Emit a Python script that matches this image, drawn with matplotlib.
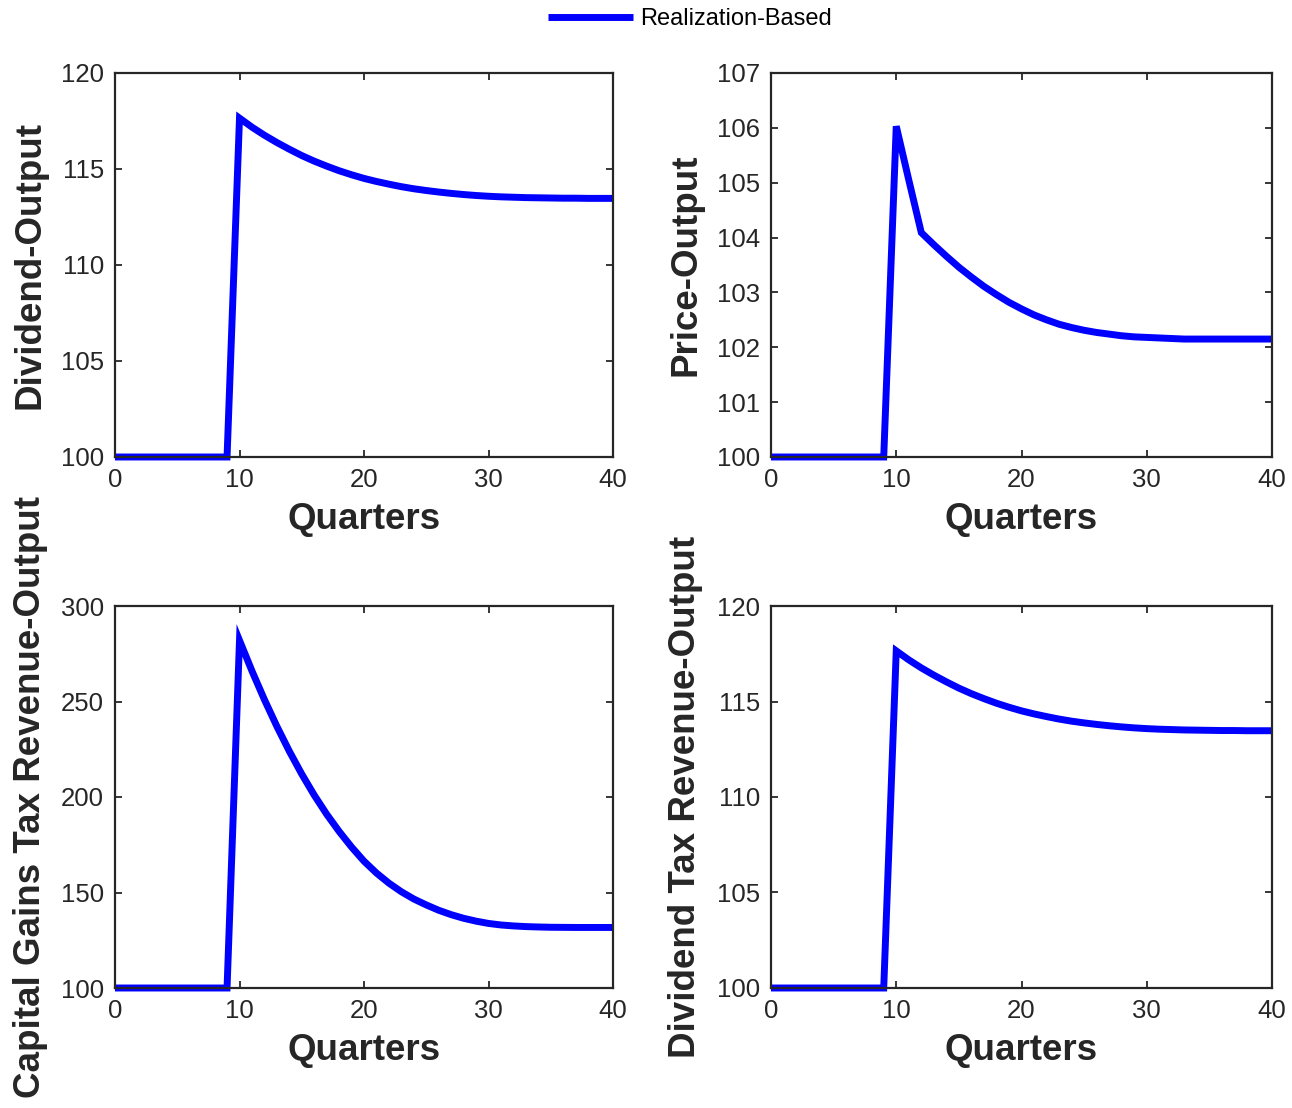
import matplotlib
matplotlib.use("Agg")
import matplotlib.pyplot as plt

plt.rcParams['font.family'] = ['Liberation Sans', 'DejaVu Sans']

# Quarters 0..40
quarters = list(range(41))

# valores (100 = nível inicial)
dividend_output = [100.0] * 10 + [
    117.65, 117.18, 116.76, 116.38, 116.03, 115.70, 115.41, 115.15, 114.91, 114.70,
    114.51, 114.35, 114.21, 114.08, 113.97, 113.88, 113.80, 113.73, 113.67, 113.62,
    113.58, 113.55, 113.53, 113.51, 113.50, 113.49, 113.48, 113.48, 113.47, 113.47,
    113.47]

price_output = [100.0] * 10 + [
    106.03, 105.05, 104.09, 103.87, 103.66, 103.46, 103.28, 103.11, 102.96, 102.82,
    102.70, 102.59, 102.50, 102.42, 102.36, 102.31, 102.27, 102.24, 102.21, 102.19,
    102.18, 102.17, 102.16, 102.15, 102.15, 102.15, 102.15, 102.15, 102.15, 102.15,
    102.15]

capgains_output = [100.0] * 10 + [
    282.0, 266.0, 251.0, 237.0, 224.0, 212.0, 201.0, 191.0, 182.0, 173.8,
    166.4, 160.2, 154.9, 150.4, 146.6, 143.5, 140.7, 138.4, 136.5, 135.0,
    133.8, 133.0, 132.5, 132.15, 131.95, 131.8, 131.75, 131.7, 131.7, 131.7,
    131.7]

divtax_output = [100.0] * 10 + [
    117.65, 117.18, 116.76, 116.38, 116.03, 115.70, 115.41, 115.15, 114.91, 114.70,
    114.51, 114.35, 114.21, 114.08, 113.97, 113.88, 113.80, 113.73, 113.67, 113.62,
    113.58, 113.55, 113.53, 113.51, 113.50, 113.49, 113.48, 113.48, 113.47, 113.47,
    113.47]

series = [dividend_output, price_output, capgains_output, divtax_output]
ylabels = ['Dividend-Output', 'Price-Output',
           'Capital Gains Tax Revenue-Output', 'Dividend Tax Revenue-Output']
yticks = [[100, 105, 110, 115, 120],
          [100, 101, 102, 103, 104, 105, 106, 107],
          [100, 150, 200, 250, 300],
          [100, 105, 110, 115, 120]]
xticks = [0, 10, 20, 30, 40]

W, H = 1292, 1108
fig = plt.figure(figsize=(W / 100, H / 100), dpi=100)

# posições em pixels: (esquerda, topo, largura, altura)
boxes = [(115, 73, 498, 384), (771, 73, 501, 384),
         (115, 606, 498, 382), (771, 606, 501, 382)]

axc = '#262626'
line = None
for box, y, lab, yt in zip(boxes, series, ylabels, yticks):
    l, t, w, h = box
    ax = fig.add_axes([l / W, 1 - (t + h) / H, w / W, h / H])
    line, = ax.plot(quarters, y, color='#0000ff', lw=5, solid_joinstyle='miter',
                    solid_capstyle='butt', label='Realization-Based', clip_on=False)
    ax.set_xlim(0, 40)
    ax.set_ylim(yt[0], yt[-1])
    ax.set_xticks(xticks)
    ax.set_yticks(yt)
    ax.tick_params(direction='in', length=5, width=1.3, colors=axc,
                   labelsize=18.5, top=True, right=True, pad=8)
    for s in ax.spines.values():
        s.set_color(axc)
        s.set_linewidth(1.6)
    ax.set_xlabel('Quarters', fontsize=26.5, fontweight='bold', color=axc, labelpad=7)
    ax.set_ylabel(lab, fontsize=26.5, fontweight='bold', color=axc)
    ax.yaxis.set_label_coords(-0.135, 0.5)

fig.legend(handles=[line], loc='center', bbox_to_anchor=(0.534, 1 - 19 / H),
           frameon=False, fontsize=17, handlelength=3.6, handletextpad=0.3)

fig.savefig('out.png', dpi=100)
